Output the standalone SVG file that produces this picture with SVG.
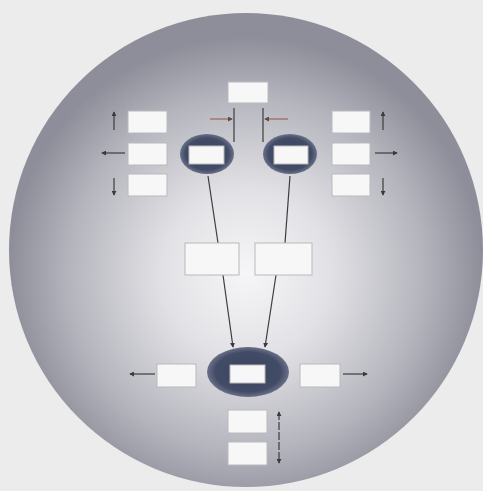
<svg xmlns="http://www.w3.org/2000/svg" width="483" height="491" viewBox="0 0 483 491">
<defs>
<radialGradient id="sphere" cx="0.5" cy="0.55" r="0.5">
<stop offset="0" stop-color="#f6f6f8"/>
<stop offset="0.35" stop-color="#e2e2e6"/>
<stop offset="0.75" stop-color="#b4b4bd"/>
<stop offset="1" stop-color="#8e8e9a"/>
</radialGradient>
<radialGradient id="oval" cx="0.5" cy="0.5" r="0.5">
<stop offset="0" stop-color="#3a435c"/>
<stop offset="0.8" stop-color="#434c66"/>
<stop offset="1" stop-color="#6a7189"/>
</radialGradient>
<marker id="ah" viewBox="0 0 6 6" refX="5" refY="3" markerWidth="5" markerHeight="5" orient="auto-start-reverse" markerUnits="userSpaceOnUse">
<path d="M0,0 L6,3 L0,6 z" fill="#3a3a3a"/>
</marker>
<marker id="ahb" viewBox="0 0 6 6" refX="5" refY="3" markerWidth="5" markerHeight="5" orient="auto" markerUnits="userSpaceOnUse">
<path d="M0,0 L6,3 L0,6 z" fill="#5a4a48"/>
</marker>
</defs>
<style>
.box{fill:#f7f7f7;stroke:#b9b9be;stroke-width:1}
.ln{stroke:#3d3d3d;stroke-width:1.2;fill:none}
.lnb{stroke:#a0786c;stroke-width:1.5;fill:none}
.oval{fill:url(#oval)}
</style>
<rect width="483" height="491" fill="#ececec"/>
<circle cx="246" cy="250" r="237" fill="url(#sphere)"/>

<g id="connectors">
<line class="ln" x1="234" y1="108" x2="234" y2="142"/>
<line class="lnb" x1="210" y1="119" x2="232" y2="119" marker-end="url(#ahb)"/>
<line class="ln" x1="263" y1="108" x2="263" y2="142"/>
<line class="lnb" x1="288" y1="119" x2="265" y2="119" marker-end="url(#ahb)"/>

<line class="ln" x1="114" y1="130" x2="114" y2="112" marker-end="url(#ah)"/>
<line class="ln" x1="125" y1="153" x2="102" y2="153" marker-end="url(#ah)"/>
<line class="ln" x1="114" y1="178" x2="114" y2="195" marker-end="url(#ah)"/>

<line class="ln" x1="383" y1="130" x2="383" y2="112" marker-end="url(#ah)"/>
<line class="ln" x1="375" y1="153" x2="397" y2="153" marker-end="url(#ah)"/>
<line class="ln" x1="383" y1="178" x2="383" y2="195" marker-end="url(#ah)"/>

<line class="ln" x1="208" y1="176" x2="218" y2="243"/>
<line class="ln" x1="290" y1="176" x2="285" y2="243"/>
<line class="ln" x1="223" y1="275" x2="233" y2="347" marker-end="url(#ah)"/>
<line class="ln" x1="276" y1="275" x2="265" y2="347" marker-end="url(#ah)"/>

<line class="ln" x1="155" y1="374" x2="130" y2="374" marker-end="url(#ah)"/>
<line class="ln" x1="343" y1="374" x2="367" y2="374" marker-end="url(#ah)"/>
<line class="ln" x1="279" y1="412" x2="279" y2="463" stroke-dasharray="8 2" marker-start="url(#ah)" marker-end="url(#ah)"/>
</g>

<g id="top"><rect class="box" x="228" y="82" width="40" height="21"/></g>

<g id="left-1"><rect class="box" x="128" y="111" width="39" height="22"/></g>
<g id="left-2"><rect class="box" x="128" y="143" width="39" height="22"/></g>
<g id="left-3"><rect class="box" x="128" y="174" width="39" height="22"/></g>

<g id="right-1"><rect class="box" x="332" y="111" width="38" height="22"/></g>
<g id="right-2"><rect class="box" x="332" y="143" width="38" height="22"/></g>
<g id="right-3"><rect class="box" x="332" y="174" width="38" height="22"/></g>

<g id="left-oval">
<ellipse class="oval" cx="207" cy="154" rx="27" ry="20"/>
<rect class="box" x="189" y="146" width="35" height="18"/>
</g>
<g id="right-oval">
<ellipse class="oval" cx="290" cy="154" rx="27" ry="20"/>
<rect class="box" x="274" y="146" width="34" height="18"/>
</g>

<g id="mid-left"><rect class="box" x="185" y="243" width="54" height="32"/></g>
<g id="mid-right"><rect class="box" x="255" y="243" width="57" height="32"/></g>

<g id="bottom-oval">
<ellipse class="oval" cx="248" cy="372" rx="41" ry="25"/>
<rect class="box" x="230" y="365" width="35" height="18"/>
</g>

<g id="bottom-left"><rect class="box" x="157" y="364" width="39" height="23"/></g>
<g id="bottom-right"><rect class="box" x="300" y="364" width="40" height="23"/></g>
<g id="below-1"><rect class="box" x="228" y="410" width="39" height="23"/></g>
<g id="below-2"><rect class="box" x="228" y="442" width="39" height="23"/></g>
</svg>
